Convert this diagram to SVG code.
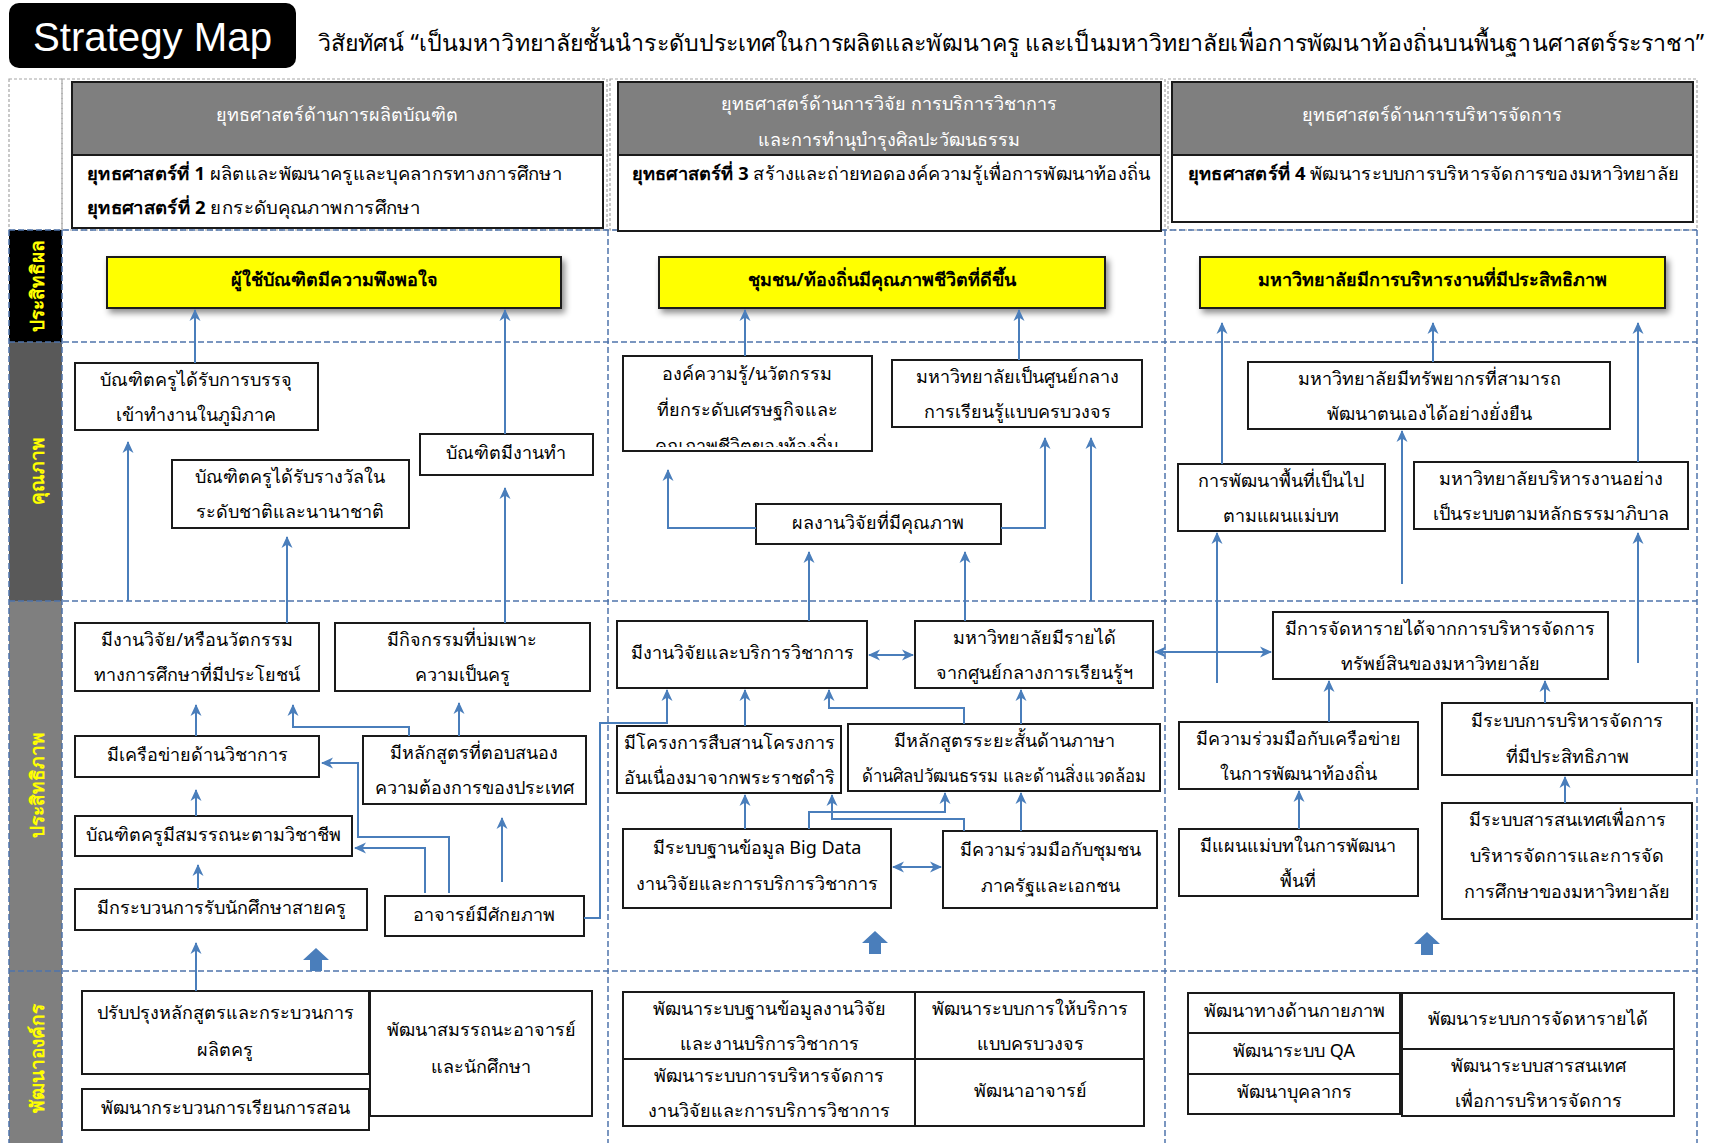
<svg xmlns="http://www.w3.org/2000/svg" width="1719" height="1143" viewBox="0 0 1719 1143">
<style>
.t{font-family:"Noto Sans","DejaVu Sans",sans-serif;font-size:18px;fill:#000;text-anchor:middle}
.b{font-weight:bold}
.hd{font-family:"Noto Sans","DejaVu Sans",sans-serif;font-size:18px;fill:#fff;text-anchor:middle}
.st{font-family:"Noto Sans","DejaVu Sans",sans-serif;font-size:18px;fill:#000}
.lab{font-family:"Noto Sans","DejaVu Sans",sans-serif;font-size:19px;font-weight:bold;fill:#ffff00;text-anchor:middle;dominant-baseline:central}
.box{fill:#fff;stroke:#1a1a1a;stroke-width:2}
.ybox{fill:#ffff00;stroke:#1a1a1a;stroke-width:2}
.gbox{fill:#7f7f7f;stroke:#1a1a1a;stroke-width:2}
.dash{fill:none;stroke:#4f74ac;stroke-width:1.5;stroke-dasharray:6 3}
.gdash{fill:none;stroke:#a6a6a6;stroke-width:1.2;stroke-dasharray:3 2}
.c{fill:none;stroke:#4a7ebb;stroke-width:2;marker-end:url(#ah)}
.c2{fill:none;stroke:#4a7ebb;stroke-width:2;marker-end:url(#ah);marker-start:url(#ah)}
.blk{fill:#4a7ebb}
</style>
<defs>
<marker id="ah" markerUnits="userSpaceOnUse" markerWidth="12" markerHeight="12" viewBox="0 0 12 12" refX="11" refY="6" orient="auto-start-reverse">
<path d="M0,0.5 L12,6 L0,11.5 L3.5,6 z" fill="#4a7ebb"/>
</marker>
<filter id="sh" x="-5%" y="-20%" width="115%" height="160%">
<feDropShadow dx="3" dy="4" stdDeviation="3" flood-color="#000" flood-opacity="0.45"/>
</filter>
<clipPath id="clipB1"><rect x="624" y="357" width="247" height="90"/></clipPath>
</defs>
<rect width="1719" height="1143" fill="#fff"/>

<!-- title -->
<g id="title">
<rect x="9" y="3" width="287" height="65" rx="10" fill="#000"/>
<text x="33" y="51" font-family="Liberation Sans, Arial, sans-serif" font-size="40" fill="#fff" textLength="239" lengthAdjust="spacingAndGlyphs">Strategy Map</text>
</g>
<text id="vision" x="318" y="51" font-family="Noto Sans, DejaVu Sans, sans-serif" font-size="23" fill="#000" textLength="1386" lengthAdjust="spacingAndGlyphs">วิสัยทัศน์ “เป็นมหาวิทยาลัยชั้นนำระดับประเทศในการผลิตและพัฒนาครู และเป็นมหาวิทยาลัยเพื่อการพัฒนาท้องถิ่นบนพื้นฐานศาสตร์ระราชา”</text>

<!-- frame / grid -->
<g id="grid">
<rect class="gdash" x="9" y="79" width="53" height="151"/>
<rect class="gdash" x="62" y="79" width="545" height="151"/>
<rect class="gdash" x="610" y="79" width="555" height="151"/>
<rect class="gdash" x="1168" y="79" width="529" height="151"/>
<rect x="9" y="230" width="53" height="112" fill="#000"/>
<rect x="9" y="342" width="53" height="259" fill="#595959"/>
<rect x="9" y="601" width="53" height="370" fill="#7f7f7f"/>
<rect x="9" y="971" width="53" height="172" fill="#7f7f7f"/>
<path class="dash" d="M9,230 H1697 M9,342 H1697 M9,601 H1697 M9,971 H1697 M9,230 V1143 M62,230 V1143 M608,230 V1143 M1165,230 V1143 M1697,230 V1143"/>
</g>

<!-- row labels -->
<g id="labels">
<text class="lab" transform="translate(37,286) rotate(-90)">ประสิทธิผล</text>
<text class="lab" transform="translate(37,471) rotate(-90)">คุณภาพ</text>
<text class="lab" transform="translate(37,785) rotate(-90)">ประสิทธิภาพ</text>
<text class="lab" transform="translate(37,1058) rotate(-90)">พัฒนาองค์กร</text>
</g>

<!-- strategy headers -->
<g id="hdr1">
<rect class="gbox" x="72" y="82" width="531" height="73"/>
<rect class="box" x="72" y="155" width="531" height="73"/>
<text class="hd" x="337" y="121">ยุทธศาสตร์ด้านการผลิตบัณฑิต</text>
<text class="st" x="87" y="180" textLength="475" lengthAdjust="spacingAndGlyphs"><tspan class="b">ยุทธศาสตร์ที่ 1</tspan> ผลิตและพัฒนาครูและบุคลากรทางการศึกษา</text>
<text class="st" x="87" y="214" textLength="333" lengthAdjust="spacingAndGlyphs"><tspan class="b">ยุทธศาสตร์ที่ 2</tspan> ยกระดับคุณภาพการศึกษา</text>
</g>
<g id="hdr2">
<rect class="gbox" x="618" y="82" width="543" height="73"/>
<rect class="box" x="618" y="155" width="543" height="76"/>
<text class="hd" x="889" y="110">ยุทธศาสตร์ด้านการวิจัย การบริการวิชาการ</text>
<text class="hd" x="889" y="146">และการทำนุบำรุงศิลปะวัฒนธรรม</text>
<text class="st" x="632" y="180" textLength="518" lengthAdjust="spacingAndGlyphs"><tspan class="b">ยุทธศาสตร์ที่ 3</tspan> สร้างและถ่ายทอดองค์ความรู้เพื่อการพัฒนาท้องถิ่น</text>
</g>
<g id="hdr3">
<rect class="gbox" x="1172" y="82" width="521" height="73"/>
<rect class="box" x="1172" y="155" width="521" height="67"/>
<text class="hd" x="1432" y="121">ยุทธศาสตร์ด้านการบริหารจัดการ</text>
<text class="st" x="1188" y="180" textLength="491" lengthAdjust="spacingAndGlyphs"><tspan class="b">ยุทธศาสตร์ที่ 4</tspan> พัฒนาระบบการบริหารจัดการของมหาวิทยาลัย</text>
</g>

<!-- outcome (yellow) -->
<g id="Y1"><rect class="ybox" filter="url(#sh)" x="107" y="257" width="454" height="51"/><text class="t b" x="334" y="286">ผู้ใช้บัณฑิตมีความพึงพอใจ</text></g>
<g id="Y2"><rect class="ybox" filter="url(#sh)" x="659" y="257" width="446" height="51"/><text class="t b" x="882" y="286">ชุมชน/ท้องถิ่นมีคุณภาพชีวิตที่ดีขึ้น</text></g>
<g id="Y3"><rect class="ybox" filter="url(#sh)" x="1200" y="257" width="465" height="51"/><text class="t b" x="1432" y="286">มหาวิทยาลัยมีการบริหารงานที่มีประสิทธิภาพ</text></g>

<!-- quality row -->
<g id="A1"><rect class="box" x="75" y="363" width="243" height="67"/><text class="t" x="196" y="386">บัณฑิตครูได้รับการบรรจุ</text><text class="t" x="196" y="421">เข้าทำงานในภูมิภาค</text></g>
<g id="A2"><rect class="box" x="172" y="460" width="237" height="68"/><text class="t" x="290" y="483">บัณฑิตครูได้รับรางวัลใน</text><text class="t" x="290" y="518">ระดับชาติและนานาชาติ</text></g>
<g id="A3"><rect class="box" x="420" y="434" width="173" height="41"/><text class="t" x="506" y="459">บัณฑิตมีงานทำ</text></g>
<g id="B1"><rect class="box" x="623" y="356" width="249" height="95"/><g clip-path="url(#clipB1)"><text class="t" x="747" y="380">องค์ความรู้/นวัตกรรม</text><text class="t" x="747" y="416">ที่ยกระดับเศรษฐกิจและ</text><text class="t" x="747" y="452">คุณภาพชีวิตของท้องถิ่น</text></g></g>
<g id="B2"><rect class="box" x="892" y="360" width="250" height="67"/><text class="t" x="1017" y="383">มหาวิทยาลัยเป็นศูนย์กลาง</text><text class="t" x="1017" y="418">การเรียนรู้แบบครบวงจร</text></g>
<g id="B3"><rect class="box" x="756" y="504" width="245" height="40"/><text class="t" x="878" y="529">ผลงานวิจัยที่มีคุณภาพ</text></g>
<g id="C1"><rect class="box" x="1248" y="362" width="362" height="67"/><text class="t" x="1429" y="385">มหาวิทยาลัยมีทรัพยากรที่สามารถ</text><text class="t" x="1429" y="420">พัฒนาตนเองได้อย่างยั่งยืน</text></g>
<g id="C2"><rect class="box" x="1178" y="464" width="207" height="67"/><text class="t" x="1281" y="487">การพัฒนาพื้นที่เป็นไป</text><text class="t" x="1281" y="522">ตามแผนแม่บท</text></g>
<g id="C3"><rect class="box" x="1414" y="462" width="274" height="67"/><text class="t" x="1551" y="485">มหาวิทยาลัยบริหารงานอย่าง</text><text class="t" x="1551" y="520">เป็นระบบตามหลักธรรมาภิบาล</text></g>

<!-- efficiency row -->
<g id="D1"><rect class="box" x="75" y="623" width="244" height="68"/><text class="t" x="197" y="646">มีงานวิจัย/หรือนวัตกรรม</text><text class="t" x="197" y="681">ทางการศึกษาที่มีประโยชน์</text></g>
<g id="D2"><rect class="box" x="335" y="623" width="255" height="68"/><text class="t" x="462" y="646">มีกิจกรรมที่บ่มเพาะ</text><text class="t" x="462" y="681">ความเป็นครู</text></g>
<g id="D3"><rect class="box" x="75" y="736" width="244" height="41"/><text class="t" x="197" y="761">มีเครือข่ายด้านวิชาการ</text></g>
<g id="D4"><rect class="box" x="363" y="736" width="223" height="68"/><text class="t" x="474" y="759">มีหลักสูตรที่ตอบสนอง</text><text class="t" x="474" y="794">ความต้องการของประเทศ</text></g>
<g id="D5"><rect class="box" x="75" y="816" width="277" height="40"/><text class="t" x="213" y="841">บัณฑิตครูมีสมรรถนะตามวิชาชีพ</text></g>
<g id="D6"><rect class="box" x="75" y="889" width="292" height="41"/><text class="t" x="221" y="914">มีกระบวนการรับนักศึกษาสายครู</text></g>
<g id="D7"><rect class="box" x="385" y="896" width="199" height="40"/><text class="t" x="484" y="921">อาจารย์มีศักยภาพ</text></g>
<g id="E1"><rect class="box" x="617" y="621" width="250" height="67"/><text class="t" x="742" y="659">มีงานวิจัยและบริการวิชาการ</text></g>
<g id="E2"><rect class="box" x="915" y="621" width="238" height="67"/><text class="t" x="1034" y="644">มหาวิทยาลัยมีรายได้</text><text class="t" x="1034" y="679">จากศูนย์กลางการเรียนรู้ฯ</text></g>
<g id="E3"><rect class="box" x="617" y="726" width="224" height="67"/><text class="t" x="729" y="749">มีโครงการสืบสานโครงการ</text><text class="t" x="729" y="784">อันเนื่องมาจากพระราชดำริ</text></g>
<g id="E4"><rect class="box" x="848" y="724" width="312" height="67"/><text class="t" x="1004" y="747">มีหลักสูตรระยะสั้นด้านภาษา</text><text class="t" x="1004" y="782" textLength="285" lengthAdjust="spacingAndGlyphs">ด้านศิลปวัฒนธรรม และด้านสิ่งแวดล้อม</text></g>
<g id="E5"><rect class="box" x="623" y="829" width="268" height="79"/><text class="t" x="757" y="854">มีระบบฐานข้อมูล Big Data</text><text class="t" x="757" y="890">งานวิจัยและการบริการวิชาการ</text></g>
<g id="E6"><rect class="box" x="943" y="831" width="214" height="77"/><text class="t" x="1050" y="856">มีความร่วมมือกับชุมชน</text><text class="t" x="1050" y="892">ภาครัฐและเอกชน</text></g>
<g id="F1"><rect class="box" x="1273" y="612" width="335" height="67"/><text class="t" x="1440" y="635">มีการจัดหารายได้จากการบริหารจัดการ</text><text class="t" x="1440" y="670">ทรัพย์สินของมหาวิทยาลัย</text></g>
<g id="F2"><rect class="box" x="1179" y="722" width="239" height="67"/><text class="t" x="1298" y="745">มีความร่วมมือกับเครือข่าย</text><text class="t" x="1298" y="780">ในการพัฒนาท้องถิ่น</text></g>
<g id="F3"><rect class="box" x="1442" y="703" width="250" height="72"/><text class="t" x="1567" y="727">มีระบบการบริหารจัดการ</text><text class="t" x="1567" y="763">ที่มีประสิทธิภาพ</text></g>
<g id="F4"><rect class="box" x="1179" y="829" width="239" height="67"/><text class="t" x="1298" y="852">มีแผนแม่บทในการพัฒนา</text><text class="t" x="1298" y="887">พื้นที่</text></g>
<g id="F5"><rect class="box" x="1442" y="803" width="250" height="116"/><text class="t" x="1567" y="826">มีระบบสารสนเทศเพื่อการ</text><text class="t" x="1567" y="862">บริหารจัดการและการจัด</text><text class="t" x="1567" y="898">การศึกษาของมหาวิทยาลัย</text></g>

<!-- organisation development row -->
<g id="G1"><rect class="box" x="82" y="991" width="287" height="83"/><text class="t" x="225" y="1019">ปรับปรุงหลักสูตรและกระบวนการ</text><text class="t" x="225" y="1056">ผลิตครู</text></g>
<g id="G2"><rect class="box" x="82" y="1089" width="287" height="41"/><text class="t" x="225" y="1114">พัฒนากระบวนการเรียนการสอน</text></g>
<g id="G3"><rect class="box" x="370" y="991" width="222" height="125"/><text class="t" x="481" y="1036">พัฒนาสมรรถนะอาจารย์</text><text class="t" x="481" y="1073">และนักศึกษา</text></g>
<g id="H1"><rect class="box" x="623" y="992" width="292" height="67"/><text class="t" x="769" y="1015">พัฒนาระบบฐานข้อมูลงานวิจัย</text><text class="t" x="769" y="1050">และงานบริการวิชาการ</text></g>
<g id="H2"><rect class="box" x="915" y="992" width="229" height="67"/><text class="t" x="1030" y="1015">พัฒนาระบบการให้บริการ</text><text class="t" x="1030" y="1050">แบบครบวงจร</text></g>
<g id="H3"><rect class="box" x="623" y="1059" width="292" height="67"/><text class="t" x="769" y="1082">พัฒนาระบบการบริหารจัดการ</text><text class="t" x="769" y="1117">งานวิจัยและการบริการวิชาการ</text></g>
<g id="H4"><rect class="box" x="915" y="1059" width="229" height="67"/><text class="t" x="1030" y="1097">พัฒนาอาจารย์</text></g>
<g id="I1"><rect class="box" x="1188" y="993" width="212" height="40"/><text class="t" x="1294" y="1017">พัฒนาทางด้านกายภาพ</text></g>
<g id="I2"><rect class="box" x="1188" y="1033" width="212" height="41"/><text class="t" x="1294" y="1057">พัฒนาระบบ QA</text></g>
<g id="I3"><rect class="box" x="1188" y="1074" width="212" height="40"/><text class="t" x="1294" y="1098">พัฒนาบุคลากร</text></g>
<g id="I4"><rect class="box" x="1402" y="993" width="272" height="56"/><text class="t" x="1538" y="1025">พัฒนาระบบการจัดหารายได้</text></g>
<g id="I5"><rect class="box" x="1402" y="1049" width="272" height="67"/><text class="t" x="1538" y="1072">พัฒนาระบบสารสนเทศ</text><text class="t" x="1538" y="1107">เพื่อการบริหารจัดการ</text></g>

<!-- connectors -->
<g id="connectors">
<path class="c" d="M195,363 V310"/>
<path class="c" d="M505,434 V310"/>
<path class="c" d="M745,356 V310"/>
<path class="c" d="M1019,360 V310"/>
<path class="c" d="M1222,464 V323"/>
<path class="c" d="M1433,362 V323"/>
<path class="c" d="M1638,462 V323"/>
<path class="c" d="M128,601 V442"/>
<path class="c" d="M287,623 V537"/>
<path class="c" d="M505,623 V488"/>
<path class="c" d="M756,528 H668 V470"/>
<path class="c" d="M1001,528 H1045 V438"/>
<path class="c" d="M1091,601 V438"/>
<path class="c" d="M809,621 V552"/>
<path class="c" d="M965,621 V552"/>
<path class="c" d="M1217,683 V533"/>
<path class="c" d="M1402,584 V431"/>
<path class="c" d="M1638,663 V533"/>
<path class="c" d="M196,736 V705"/>
<path class="c" d="M409,736 V727 H293 V705"/>
<path class="c" d="M459,736 V703"/>
<path class="c" d="M449,893 V837 H358 V763 H322"/>
<path class="c" d="M425,893 V848 H355"/>
<path class="c" d="M502,882 V818"/>
<path class="c" d="M196,816 V790"/>
<path class="c" d="M198,889 V865"/>
<path class="c" d="M196,991 V943"/>
<path class="c" d="M584,918 H600 V723 H667 V690"/>
<path class="c2" d="M869,655 H913"/>
<path class="c" d="M745,726 V690"/>
<path class="c" d="M964,724 V708 H829 V690"/>
<path class="c" d="M1021,724 V690"/>
<path class="c" d="M745,829 V795"/>
<path class="c" d="M809,829 V812 H945 V793"/>
<path class="c" d="M964,831 V819 H832 V795"/>
<path class="c" d="M1021,831 V793"/>
<path class="c2" d="M893,867 H941"/>
<path class="c2" d="M1155,652 H1271"/>
<path class="c" d="M1329,722 V681"/>
<path class="c" d="M1545,703 V681"/>
<path class="c" d="M1299,829 V791"/>
<path class="c" d="M1565,803 V777"/>
<path class="blk" d="M316,948 L329,960 L322,960 L322,971 L310,971 L310,960 L303,960 z"/>
<path class="blk" d="M875,931 L888,943 L881,943 L881,954 L869,954 L869,943 L862,943 z"/>
<path class="blk" d="M1427,932 L1440,944 L1433,944 L1433,955 L1421,955 L1421,944 L1414,944 z"/>
</g>
</svg>
